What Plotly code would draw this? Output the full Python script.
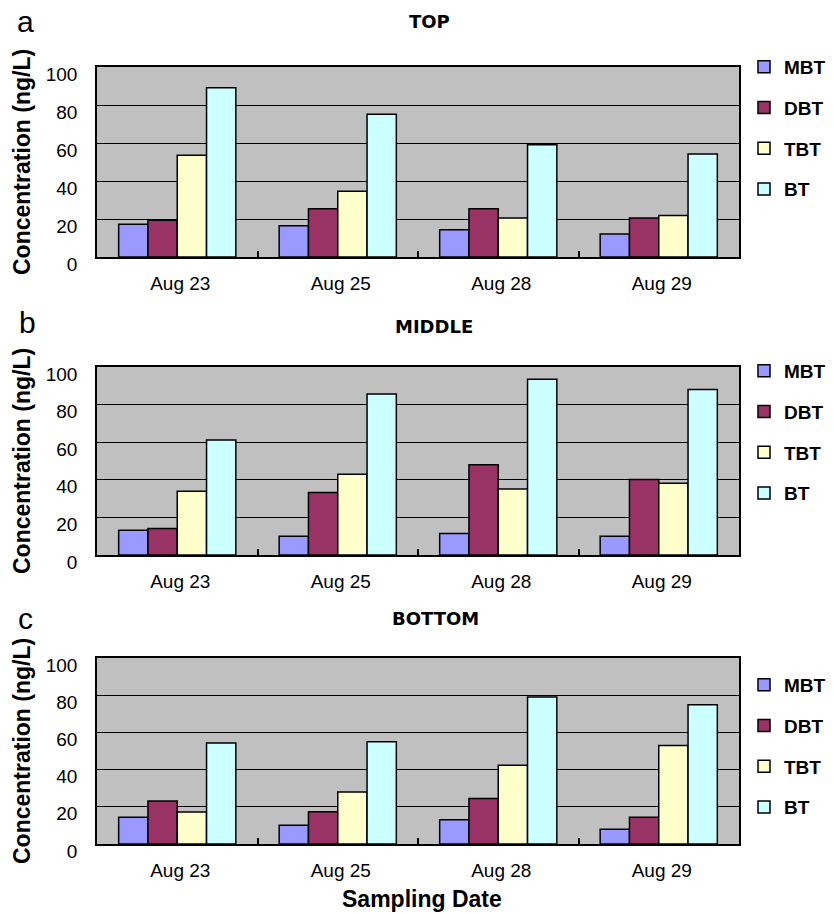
import plotly.graph_objects as go

dates = ["Aug 23", "Aug 25", "Aug 28", "Aug 29"]
species = ["MBT", "DBT", "TBT", "BT"]
colors = ["#9999FF", "#993366", "#FFFFCC", "#CCFFFF"]

top_MBT = [17.2, 16.5, 14.4, 12.1]
top_DBT = [19.3, 25.4, 25.4, 20.5]
top_TBT = [53.5, 34.6, 20.5, 21.9]
top_BT = [89.1, 75.1, 59.1, 54.2]

mid_MBT = [13.1, 10.0, 11.5, 10.0]
mid_DBT = [14.1, 33.2, 48.0, 40.2]
mid_TBT = [33.9, 43.0, 35.1, 38.1]
mid_BT = [61.2, 85.7, 93.5, 88.0]

bot_MBT = [14.4, 10.1, 13.1, 7.9]
bot_DBT = [23.1, 17.4, 24.4, 14.4]
bot_TBT = [17.2, 28.0, 42.3, 52.9]
bot_BT = [54.3, 55.0, 79.0, 74.9]

panels = [
    ("TOP", "a", [top_MBT, top_DBT, top_TBT, top_BT]),
    ("MIDDLE", "b", [mid_MBT, mid_DBT, mid_TBT, mid_BT]),
    ("BOTTOM", "c", [bot_MBT, bot_DBT, bot_TBT, bot_BT]),
]
y_ticks = [0, 20, 40, 60, 80, 100]

W, H = 834, 914
# plot area pixel boxes (top, bottom)
boxes = [(67, 257), (367, 555), (658, 844)]
xdom = [97 / W, 739 / W]
legend_tops = [48, 352, 666]
title_pos = [(429, 22), (434, 327), (435, 618)]
letter_pos = [(25, 22), (27, 322), (25, 618)]

fig = go.Figure()
axis_font = dict(family="Liberation Sans, Arial", size=19, color="black")

for i, (title, letter, series) in enumerate(panels):
    k = i + 1
    xa = "x" if k == 1 else f"x{k}"
    ya = "y" if k == 1 else f"y{k}"
    lg = "legend" if k == 1 else f"legend{k}"
    for name, vals, col in zip(species, series, colors):
        fig.add_trace(go.Bar(
            x=dates, y=vals, name=name, xaxis=xa, yaxis=ya,
            marker=dict(color=col, line=dict(color="black", width=1.5)),
            legend=lg, legendgroup=f"{letter}_{name}", showlegend=True,
        ))
    top, bot = boxes[i]
    xkey = "xaxis" if k == 1 else f"xaxis{k}"
    ykey = "yaxis" if k == 1 else f"yaxis{k}"
    fig.update_layout(**{
        xkey: dict(
            domain=xdom, anchor=ya, showline=True, linecolor="black", linewidth=1.5,
            mirror=True, ticks="inside", tickson="boundaries", ticklen=6,
            tickcolor="black", tickwidth=1.5, showgrid=False, tickfont=axis_font,
            automargin=False, ticklabelstandoff=8, ticklabelshift=3, fixedrange=True,
        ),
        ykey: dict(
            domain=[1 - bot / H, 1 - top / H], anchor=xa, range=[0, 100],
            tickvals=y_ticks, showline=True, linecolor="black", linewidth=1.5,
            mirror=True, ticks="", showgrid=True, gridcolor="black", gridwidth=1,
            zeroline=False, tickfont=axis_font, automargin=False,
            ticklabelposition="outside", ticklabelstandoff=14, ticklabelshift=7,
            fixedrange=True,
        ),
        lg: dict(
            x=744 / W, xanchor="left", y=1 - legend_tops[i] / H, yanchor="top",
            font=dict(family="Liberation Sans, Arial", size=19, color="black", weight="bold"),
            bgcolor="rgba(0,0,0,0)", traceorder="grouped", tracegroupgap=13,
            itemclick=False, itemdoubleclick=False,
        ),
    })
    tx, ty = title_pos[i]
    fig.add_annotation(text=title, x=tx / W, y=1 - ty / H, xref="paper", yref="paper",
                       xanchor="center", yanchor="middle", showarrow=False,
                       font=dict(family="DejaVu Sans", size=18, color="black", weight="bold"))
    lx, ly = letter_pos[i]
    fig.add_annotation(text=letter, x=lx / W, y=1 - ly / H, xref="paper", yref="paper",
                       xanchor="center", yanchor="middle", showarrow=False,
                       font=dict(family="Liberation Sans, Arial", size=30, color="black"))
    fig.add_annotation(text="Concentration (ng/L)", x=22 / W, y=1 - (top + bot) / 2 / H,
                       xref="paper", yref="paper", xanchor="center", yanchor="middle",
                       textangle=-90, showarrow=False,
                       font=dict(family="Liberation Sans, Arial", size=23, color="black", weight="bold"))

fig.add_annotation(text="Sampling Date", x=422 / W, y=1 - 899 / H, xref="paper", yref="paper",
                   xanchor="center", yanchor="middle", showarrow=False,
                   font=dict(family="Liberation Sans, Arial", size=23, color="black", weight="bold"))

fig.update_layout(
    width=W, height=H, template="none",
    margin=dict(l=0, r=0, t=0, b=0),
    paper_bgcolor="white", plot_bgcolor="#C0C0C0",
    barmode="group", bargap=0.27, bargroupgap=0,
    font=dict(family="Liberation Sans, Arial", color="black"),
)

fig.write_html(
    "out.html",
    config={"displayModeBar": False},
    post_script="document.body.style.margin='0';document.body.style.overflow='hidden';",
)
